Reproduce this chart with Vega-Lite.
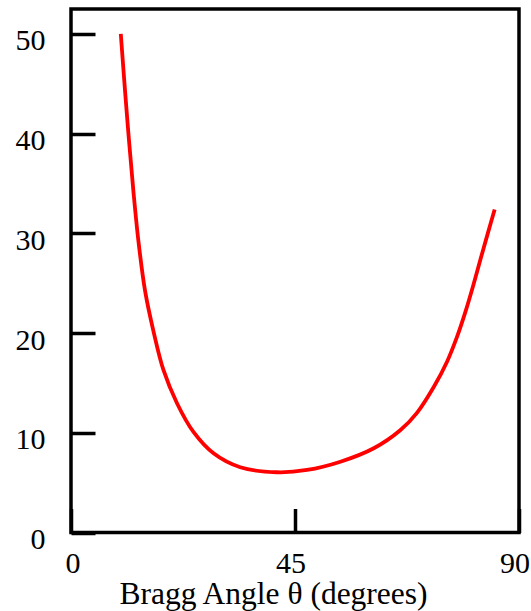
{
  "$schema": "https://vega.github.io/schema/vega-lite/v6.json",
  "autosize": {"type": "none"},
  "width": 448,
  "height": 523.5,
  "padding": {"left": 71, "top": 9, "right": 12, "bottom": 78.5},
  "background": "white",
  "config": {
    "view": {"stroke": "black", "strokeWidth": 3.5},
    "font": "Liberation Serif"
  },
  "data": {
    "values": [
      {"theta": 10.0, "v": 50.0},
      {"theta": 10.87, "v": 44.2},
      {"theta": 11.67, "v": 39.2},
      {"theta": 12.54, "v": 34.2},
      {"theta": 13.55, "v": 29.2},
      {"theta": 14.89, "v": 24.2},
      {"theta": 16.56, "v": 20.2},
      {"theta": 18.57, "v": 16.3},
      {"theta": 21.27, "v": 12.99},
      {"theta": 24.6, "v": 10.08},
      {"theta": 28.63, "v": 7.94},
      {"theta": 34.0, "v": 6.54},
      {"theta": 41.39, "v": 6.04},
      {"theta": 47.42, "v": 6.27},
      {"theta": 54.12, "v": 7.1},
      {"theta": 60.83, "v": 8.45},
      {"theta": 66.2, "v": 10.28},
      {"theta": 69.5, "v": 12.0},
      {"theta": 72.9, "v": 14.62},
      {"theta": 75.59, "v": 17.18},
      {"theta": 77.6, "v": 19.69},
      {"theta": 79.28, "v": 22.2},
      {"theta": 80.82, "v": 24.8},
      {"theta": 82.29, "v": 27.45},
      {"theta": 83.76, "v": 30.05},
      {"theta": 85.11, "v": 32.4}
    ]
  },
  "mark": {"type": "line", "color": "#ff0000", "strokeWidth": 3.8, "interpolate": "catmull-rom", "clip": true},
  "encoding": {
    "x": {
      "field": "theta",
      "type": "quantitative",
      "scale": {"domain": [0, 90], "nice": false, "zero": false},
      "axis": {
        "values": [0, 45, 90],
        "domain": false,
        "grid": false,
        "tickSize": -24,
        "tickWidth": 3.5,
        "tickColor": "black",
        "labelFont": "Liberation Serif",
        "labelFontSize": 30,
        "labelColor": "black",
        "labelPadding": 40,
        "labelOffset": {"condition": {"test": "datum.value == 0", "value": 1.5}, "value": -4.5},
        "labelFlush": false,
        "labelOverlap": false,
        "title": "Bragg Angle θ (degrees)",
        "titleFont": "Liberation Serif",
        "titleFontSize": 31.5,
        "titleFontWeight": "normal",
        "titleColor": "black",
        "titleAlign": "center",
        "titleBaseline": "alphabetic",
        "titleAnchor": null,
        "titleX": 202,
        "titleY": 71
      }
    },
    "y": {
      "field": "v",
      "type": "quantitative",
      "scale": {"domain": [0, 52.5], "nice": false, "zero": true},
      "axis": {
        "values": [0, 10, 20, 30, 40, 50],
        "domain": false,
        "grid": false,
        "tickSize": -24,
        "tickWidth": 3.5,
        "tickColor": "black",
        "labelFont": "Liberation Serif",
        "labelFontSize": 30,
        "labelColor": "black",
        "labelPadding": 50,
        "labelOffset": 7,
        "labelBaseline": "middle",
        "labelFlush": false,
        "labelOverlap": false,
        "title": null
      }
    }
  }
}
